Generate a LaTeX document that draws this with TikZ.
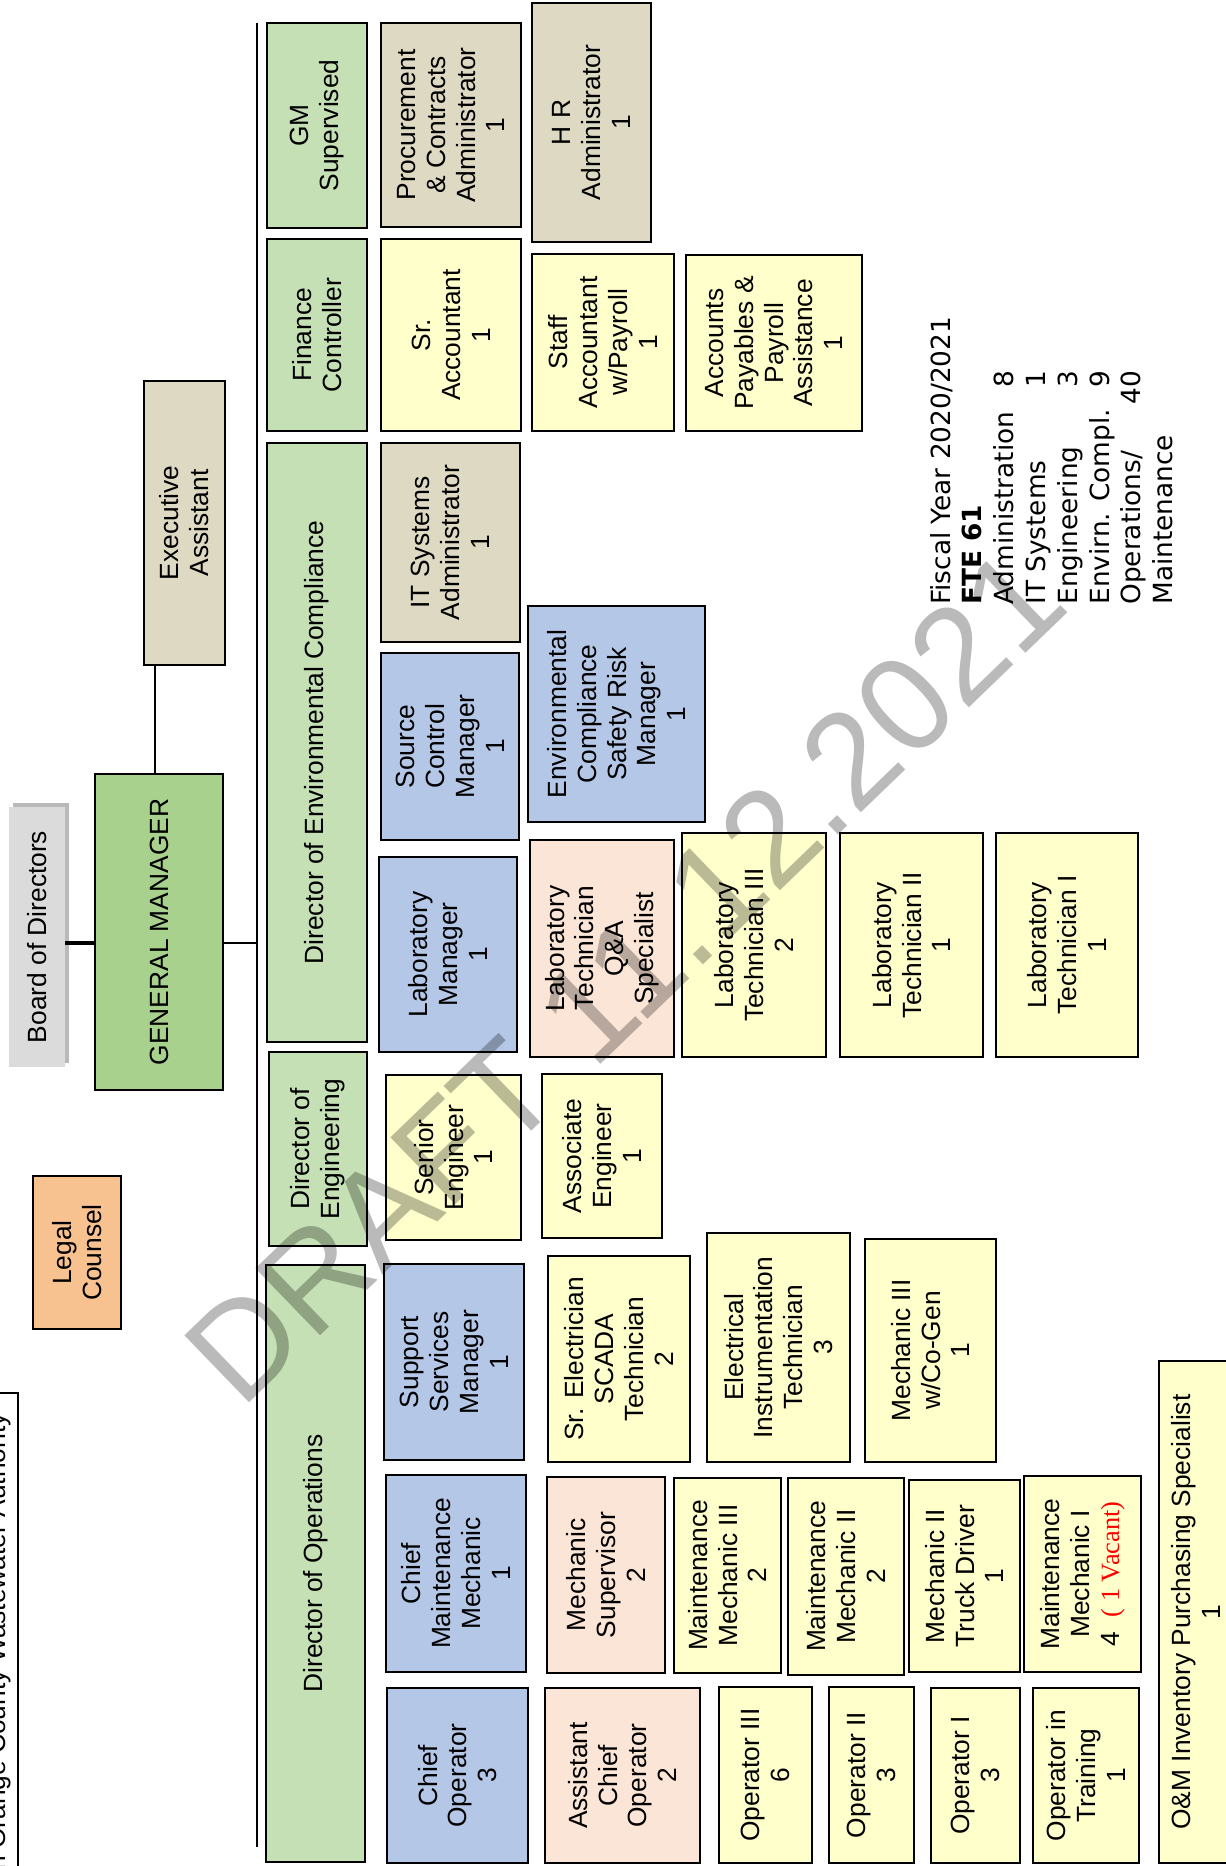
\documentclass[tikz,border=0pt]{standalone}
\usepackage{fontspec}
\setmainfont{Liberation Sans}
\newfontfamily\fyfont{DejaVu Sans}
\newfontfamily\vacfont{Liberation Serif}
\usetikzlibrary{fit}

\definecolor{hdrgreen}{HTML}{C5E0B4}
\definecolor{gmgreen}{HTML}{A9D18E}
\definecolor{tan}{HTML}{DDD9C3}
\definecolor{paleyellow}{HTML}{FFFFCC}
\definecolor{paleblue}{HTML}{B4C7E7}
\definecolor{palepink}{HTML}{FBE5D6}
\definecolor{legalorange}{HTML}{F8C190}

\begin{document}
\begin{tikzpicture}[
    % one unit = one pixel of the page, y running downwards
    x=0.02cm, y=-0.02cm,
    % box of one position (drawn from its two corners)
    job/.style={draw=black, line width=1.1pt, inner sep=0pt},
    % rotated text of a box
    jobtext/.style={rotate=90, align=center, inner sep=0pt, font=\fontsize{15}{17}\selectfont},
    % reporting lines
    link/.style={line width=1.1pt}
]

    \clip (0,0) rectangle (1226,1866);

    % ==========================================
    % 1. TOP OF THE CHART
    % ==========================================
    \fill[gray!55] (13,803) rectangle (69,1063);   % shadow of the board box
    \node[fill=gray!28, inner sep=0pt, fit={(9,807) (65,1067)}] (board) {};
    \node[jobtext] (board-t) at (board) {Board of Directors};

    \node[job, fill=gmgreen, fit={(95,774) (223,1090)}] (gm) {};
    \node[jobtext] (gm-t) at (gm) {GENERAL MANAGER};

    \node[job, fill=tan, fit={(144,381) (225,665)}] (exec) {};
    \node[jobtext] (exec-t) at (exec) {Executive\\Assistant};

    \node[job, fill=legalorange, fit={(33,1176) (121,1329)}] (legal) {};
    \node[jobtext] (legal-t) at (legal) {Legal\\Counsel};

    % title, cut by the page edge
    \draw[link] (0,1393) -- (18,1393) -- (18,1870);
    \node[jobtext, anchor=base east] (title) at (6,1413) {South Orange County Wastewater Authority};

    % ==========================================
    % 2. LINES
    % ==========================================
    \coordinate (busTop) at (257,23);
    \coordinate (busBot) at (257,1847);
    \coordinate (busGM) at (257,943);
    \coordinate (execLink) at (155,665);

    \draw[line width=1.8pt] (board.east |- busGM) -- (gm.west |- busGM);
    \draw[link] (gm.east |- busGM) -- (busGM);
    \draw[link] (busTop) -- (busBot);
    \draw[link] (execLink) -- (execLink |- gm.north);

    % ==========================================
    % 3. DEPARTMENT HEADS
    % ==========================================
    \node[job, fill=hdrgreen, fit={(267,23) (367,228)}] (gmSup) {};
    \node[jobtext] (gmSup-t) at (gmSup) {GM\\Supervised};
    \node[job, fill=hdrgreen, fit={(267,239) (367,431)}] (finCtrl) {};
    \node[jobtext] (finCtrl-t) at (finCtrl) {Finance\\Controller};
    \node[job, fill=hdrgreen, fit={(267,443) (367,1042)}] (dirEnv) {};
    \node[jobtext] (dirEnv-t) at (dirEnv) {Director of Environmental Compliance};
    \node[job, fill=hdrgreen, fit={(269,1052) (367,1246)}] (dirEng) {};
    \node[jobtext] (dirEng-t) at (dirEng) {Director of\\Engineering};
    \node[job, fill=hdrgreen, fit={(266,1265) (365,1862)}] (dirOps) {};
    \node[jobtext] (dirOps-t) at (dirOps) {Director of Operations};

    % ==========================================
    % 4. SECOND ROW
    % ==========================================
    \node[job, fill=tan, fit={(381,23) (521,227)}] (procAdm) {};
    \node[jobtext] (procAdm-t) at (procAdm) {Procurement\\\& Contracts\\Administrator\\1};
    \node[job, fill=paleyellow, fit={(381,239) (521,431)}] (srAcct) {};
    \node[jobtext] (srAcct-t) at (srAcct) {Sr.\\Accountant\\1};
    \node[job, fill=tan, fit={(381,443) (520,642)}] (itAdm) {};
    \node[jobtext] (itAdm-t) at (itAdm) {IT Systems\\Administrator\\1};
    \node[job, fill=paleblue, fit={(381,653) (519,840)}] (srcCtrl) {};
    \node[jobtext] (srcCtrl-t) at (srcCtrl) {Source\\Control\\Manager\\1};
    \node[job, fill=paleblue, fit={(379,857) (517,1052)}] (labMgr) {};
    \node[jobtext] (labMgr-t) at (labMgr) {Laboratory\\Manager\\1};
    \node[job, fill=paleyellow, fit={(386,1075) (521,1240)}] (srEng) {};
    \node[jobtext] (srEng-t) at (srEng) {Senior\\Engineer\\1};
    \node[job, fill=paleblue, fit={(384,1264) (524,1460)}] (supServ) {};
    \node[jobtext] (supServ-t) at (supServ) {Support\\Services\\Manager\\1};
    \node[job, fill=paleblue, fit={(386,1475) (526,1672)}] (chiefMaint) {};
    \node[jobtext] (chiefMaint-t) at (chiefMaint) {Chief\\Maintenance\\Mechanic\\1};
    \node[job, fill=paleblue, fit={(387,1688) (528,1863)}] (chiefOp) {};
    \node[jobtext] (chiefOp-t) at (chiefOp) {Chief\\Operator\\3};

    % ==========================================
    % 5. STAFF
    % ==========================================
    % administration and finance
    \node[job, fill=tan, fit={(532,3) (651,242)}] (hrAdm) {};
    \node[jobtext] (hrAdm-t) at (hrAdm) {H R\\Administrator\\1};
    \node[job, fill=paleyellow, fit={(532,254) (674,431)}] (staffAcct) {};
    \node[jobtext] (staffAcct-t) at (staffAcct) {Staff\\Accountant\\w/Payroll\\1};
    \node[job, fill=paleyellow, fit={(686,255) (862,431)}] (apPay) {};
    \node[jobtext] (apPay-t) at (apPay) {Accounts\\Payables \&\\Payroll\\Assistance\\1};

    % environmental compliance
    \node[job, fill=paleblue, fit={(528,606) (705,822)}] (envSafety) {};
    \node[jobtext] (envSafety-t) at (envSafety) {Environmental\\Compliance\\Safety Risk\\Manager\\1};
    \node[job, fill=palepink, fit={(530,840) (674,1057)}] (labQA) {};
    \node[jobtext] (labQA-t) at (labQA) {Laboratory\\Technician\\Q\&A\\Specialist};
    \node[job, fill=paleyellow, fit={(682,833) (826,1057)}] (labT3) {};
    \node[jobtext] (labT3-t) at (labT3) {Laboratory\\Technician III\\2};
    \node[job, fill=paleyellow, fit={(840,833) (983,1057)}] (labT2) {};
    \node[jobtext] (labT2-t) at (labT2) {Laboratory\\Technician II\\1};
    \node[job, fill=paleyellow, fit={(996,833) (1138,1057)}] (labT1) {};
    \node[jobtext] (labT1-t) at (labT1) {Laboratory\\Technician I\\1};

    % engineering
    \node[job, fill=paleyellow, fit={(542,1074) (662,1238)}] (assocEng) {};
    \node[jobtext] (assocEng-t) at (assocEng) {Associate\\Engineer\\1};

    % support services
    \node[job, fill=paleyellow, fit={(548,1256) (690,1462)}] (srElec) {};
    \node[jobtext] (srElec-t) at (srElec) {Sr. Electrician\\SCADA\\Technician\\2};
    \node[job, fill=paleyellow, fit={(707,1233) (850,1462)}] (eiTech) {};
    \node[jobtext] (eiTech-t) at (eiTech) {Electrical\\Instrumentation\\Technician\\3};
    \node[job, fill=paleyellow, fit={(865,1239) (996,1462)}] (mechCogen) {};
    \node[jobtext] (mechCogen-t) at (mechCogen) {Mechanic III\\w/Co-Gen\\1};

    % maintenance
    \node[job, fill=palepink, fit={(547,1477) (665,1673)}] (mechSup) {};
    \node[jobtext] (mechSup-t) at (mechSup) {Mechanic\\Supervisor\\2};
    \node[job, fill=paleyellow, fit={(674,1478) (781,1673)}] (maintM3) {};
    \node[jobtext] (maintM3-t) at (maintM3) {Maintenance\\Mechanic III\\2};
    \node[job, fill=paleyellow, fit={(788,1478) (904,1675)}] (maintM2) {};
    \node[jobtext] (maintM2-t) at (maintM2) {Maintenance\\Mechanic II\\2};
    \node[job, fill=paleyellow, fit={(909,1480) (1020,1672)}] (truckDrv) {};
    \node[jobtext] (truckDrv-t) at (truckDrv) {Mechanic II\\Truck Driver\\1};
    \node[job, fill=paleyellow, fit={(1024,1476) (1141,1672)}] (maintM1) {};
    \node[jobtext] (maintM1-t) at (maintM1) {Maintenance\\Mechanic I\\4\ \ {\vacfont\color{red}( 1 Vacant)}};

    % operations
    \node[job, fill=palepink, fit={(545,1688) (700,1863)}] (asstChief) {};
    \node[jobtext] (asstChief-t) at (asstChief) {Assistant\\Chief\\Operator\\2};
    \node[job, fill=paleyellow, fit={(719,1687) (812,1863)}] (op3) {};
    \node[jobtext] (op3-t) at (op3) {Operator III\\6};
    \node[job, fill=paleyellow, fit={(829,1687) (914,1863)}] (op2) {};
    \node[jobtext] (op2-t) at (op2) {Operator II\\3};
    \node[job, fill=paleyellow, fit={(931,1688) (1020,1863)}] (op1) {};
    \node[jobtext] (op1-t) at (op1) {Operator I\\3};
    \node[job, fill=paleyellow, fit={(1033,1688) (1139,1863)}] (opTrain) {};
    \node[jobtext] (opTrain-t) at (opTrain) {Operator in\\Training\\1};
    \node[job, fill=paleyellow, fit={(1159,1361) (1233,1863)}] (omPurch) {};
    \node[jobtext] (omPurch-t) at (omPurch) {O\&M Inventory Purchasing Specialist\\1};

    % ==========================================
    % 6. STAFF COUNT
    % ==========================================
    \node[rotate=90, anchor=base west, inner sep=0pt, font=\fyfont\fontsize{15}{18.1}\selectfont] (fte) at (950,605) {%
        \begin{tabular}[t]{@{}l@{}}
            Fiscal Year 2020/2021\\
            \textbf{FTE 61}\\
            \makebox[133pt][s]{Administration\hfill 8}\\
            \makebox[133pt][s]{IT Systems\hfill 1}\\
            \makebox[133pt][s]{Engineering\hfill 3}\\
            \makebox[133pt][s]{Envirn. Compl.\hfill 9}\\
            \makebox[133pt][s]{Operations/\hfill 40}\\
            Maintenance
        \end{tabular}};

    % watermark
    \node[rotate=44, text=black, opacity=0.27, font=\fontsize{77}{80}\selectfont] (draft) at (625,976) {DRAFT 11.12.2021};

\end{tikzpicture}
\end{document}
